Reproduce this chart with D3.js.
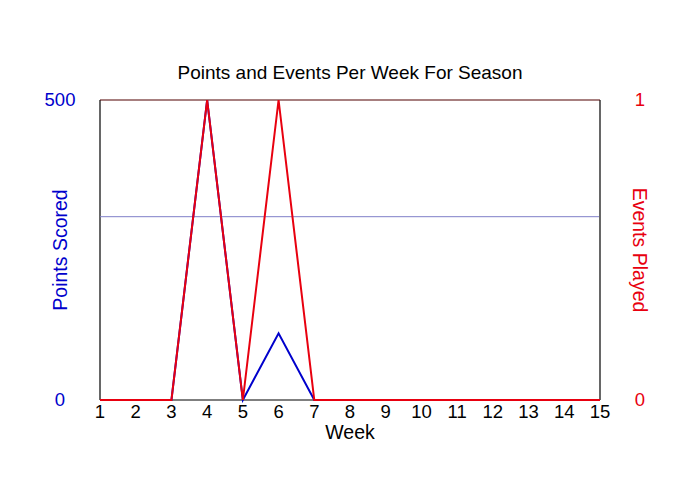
<!DOCTYPE html>
<html><head><meta charset="utf-8">
<script src="https://cdn.jsdelivr.net/npm/d3@7"></script>
<style>body{margin:0;background:#fff}svg{display:block}text{font-family:"Liberation Sans",Arial,sans-serif}</style>
</head><body><svg id="c" width="700" height="500"></svg>
<script>
const weeks = [1,2,3,4,5,6,7,8,9,10,11,12,13,14,15];
const points = [0,0,0,500,0,111,0,0,0,0,0,0,0,0,0];
const events = [0,0,0,1,0,1,0,0,0,0,0,0,0,0,0];
const averagePoints = 305.5;
const leftTicks = [0,500];
const rightTicks = [0,1];

const svg = d3.select("#c");
const L=100,R=600,T=100,B=400;
const x = d3.scaleLinear().domain([1,15]).range([L,R]);
const yL = d3.scaleLinear().domain([0,500]).range([B,T]);
const yR = d3.scaleLinear().domain([0,1]).range([B,T]);

// frame
svg.append("line").attr("x1",L).attr("x2",L).attr("y1",T).attr("y2",B).attr("stroke","#000").attr("stroke-width",1.2);
svg.append("line").attr("x1",R).attr("x2",R).attr("y1",T).attr("y2",B).attr("stroke","#000").attr("stroke-width",1.2);
svg.append("line").attr("x1",L).attr("x2",R).attr("y1",B).attr("y2",B).attr("stroke","#000").attr("stroke-width",1.2);
svg.append("line").attr("x1",L).attr("x2",R).attr("y1",T).attr("y2",T).attr("stroke","#500000").attr("stroke-width",1.2);

// average line
svg.append("line").attr("x1",L).attr("x2",R-1).attr("y1",yL(averagePoints)).attr("y2",yL(averagePoints)).attr("stroke","#7f7fc8").attr("stroke-width",1);

const lineP = d3.line().x((d,i)=>x(weeks[i])).y(d=>yL(d));
const lineE = d3.line().x((d,i)=>x(weeks[i])).y(d=>yR(d));
svg.append("path").datum(points).attr("d",lineP).attr("fill","none").attr("stroke","#0000cc").attr("stroke-width",2);
svg.append("path").datum(events).attr("d",lineE).attr("fill","none").attr("stroke","#e8000f").attr("stroke-width",2);

// title
svg.append("text").attr("x",350).attr("y",79).attr("text-anchor","middle").attr("font-size",19).attr("fill","#000").text("Points and Events Per Week For Season");

// x ticks
svg.selectAll(".xt").data(weeks).enter().append("text").attr("x",d=>x(d)).attr("y",418).attr("text-anchor","middle").attr("font-size",18.5).attr("fill","#000").text(d=>d);
svg.append("text").attr("x",350).attr("y",439).attr("text-anchor","middle").attr("font-size",19.5).attr("fill","#000").text("Week");

// left / right ticks
svg.selectAll(".yl").data(leftTicks).enter().append("text").attr("x",60).attr("y",d=>yL(d)+6).attr("text-anchor","middle").attr("font-size",18.5).attr("fill","#0000cc").text(d=>d);
svg.selectAll(".yr").data(rightTicks).enter().append("text").attr("x",640).attr("y",d=>yR(d)+6).attr("text-anchor","middle").attr("font-size",18.5).attr("fill","#e8000f").text(d=>d);

svg.append("text").attr("transform","translate(67,250) rotate(-90)").attr("text-anchor","middle").attr("font-size",19.5).attr("fill","#0000cc").text("Points Scored");
svg.append("text").attr("transform","translate(633,250) rotate(90)").attr("text-anchor","middle").attr("font-size",19.5).attr("fill","#e8000f").text("Events Played");
</script></body></html>
